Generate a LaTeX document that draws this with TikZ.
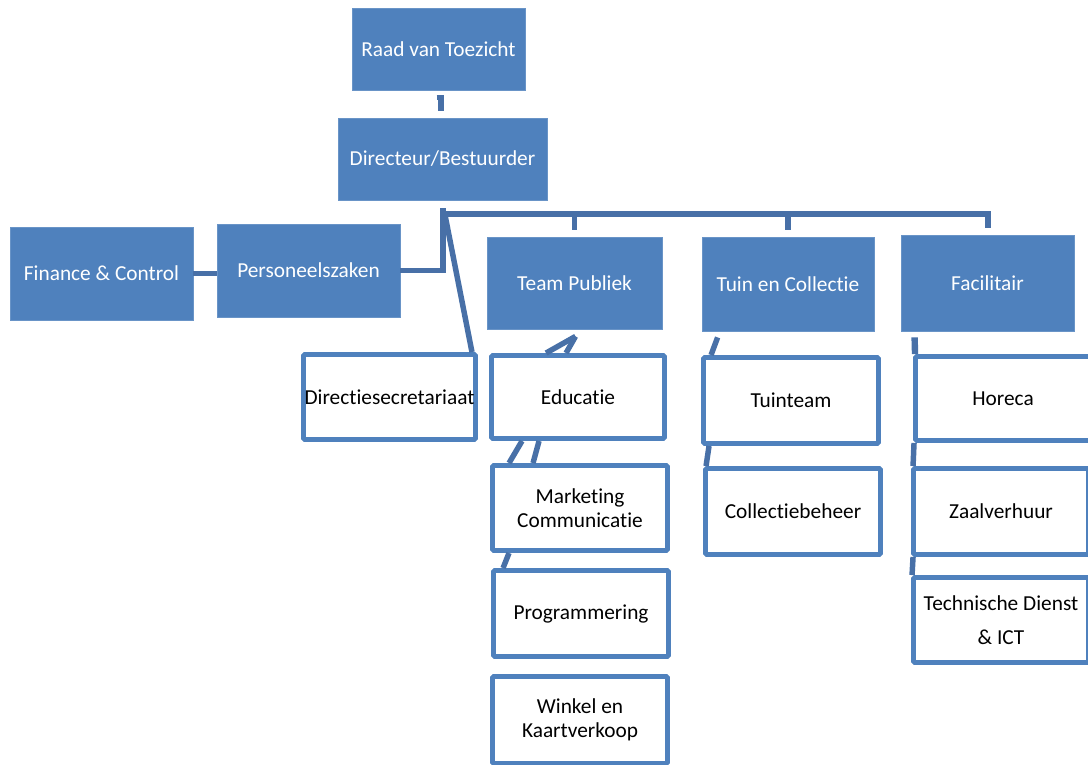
\documentclass[tikz,border=0pt]{standalone}
\usepackage{fontspec}
\setmainfont{Carlito}[Ligatures=NoCommon]
\usetikzlibrary{calc}
\definecolor{boxblue}{RGB}{79,129,189}
\definecolor{lineblue}{RGB}{72,112,167}

\tikzset{
	% size given in pixels of the chart (w, h)
	boxsize/.style 2 args={minimum width=#1*0.75pt, minimum height=#2*0.75pt},
	headbox/.style={fill=boxblue, draw=boxblue!85!white, line width=0.6pt, text=white,
		inner sep=0pt, align=center, font=\fontsize{16}{18}\selectfont},
	unitbox/.style={fill=white, draw=boxblue, line width=3.7pt, rounded corners=1pt,
		inner sep=0pt, align=center, font=\fontsize{16}{18}\selectfont},
	link/.style={draw=lineblue, line width=4.1pt},
}

\begin{document}
\begin{tikzpicture}[x=0.75pt, y=-0.75pt]
	\useasboundingbox (0,0) rectangle (1088,764);
	
	% top of the chart
	\node[headbox, boxsize={173}{82}] (raad) at (438.5,49) {Raad van Toezicht};
	\node[headbox, boxsize={209}{82}] (dir) at (442.5,159) {Directeur/Bestuurder};
	\node[headbox, boxsize={183}{93}] (fin) at (101.5,273.5) {Finance \& Control};
	\node[headbox, boxsize={183}{93}] (pers) at (308.5,270.5) {Personeelszaken};
	
	% departments
	\node[headbox, boxsize={175}{92}] (publiek) at (574.5,283) {Team Publiek};
	\node[headbox, boxsize={172}{94}] (tuin) at (788,284) {Tuin en Collectie};
	\node[headbox, boxsize={173}{96}] (facil) at (987.5,283) {Facilitair};
	
	% connectors
	\coordinate (stub) at (441,111);
	\coordinate (hub) at (443,208);
	\draw[link] ($(raad.south)+(-2,7)$) -- ($(raad.south)+(2.5,7)$) -- (stub);
	\draw[link] (hub) |- (pers.east);
	\draw[link] (fin.east) -- (fin.east -| pers.west);
	\draw[link] (441,214) -| ($(facil.north)+(0.5,-7)$);
	\draw[link] (publiek.north |- 0,214) -- ($(publiek.north)+(0,-7)$);
	\draw[link] (tuin.north |- 0,214) -- ($(tuin.north)+(0,-7)$);
	
	% staff and teams
	\node[unitbox, boxsize={172}{85}] (secr) at (389.5,397) {Directiesecretariaat};
	\node[unitbox, boxsize={173}{83}] (educ) at (578,397) {Educatie};
	\node[unitbox, boxsize={175}{85}] (mark) at (580,508) {Marketing\\Communicatie};
	\node[unitbox, boxsize={175}{86}] (prog) at (581,613.5) {Programmering};
	\node[unitbox, boxsize={175}{87}] (winkel) at (580,720) {Winkel en\\Kaartverkoop};
	\node[unitbox, boxsize={175}{86}] (tuinteam) at (791,400.5) {Tuinteam};
	\node[unitbox, boxsize={175}{86}] (collectie) at (793,511.5) {Collectiebeheer};
	\node[unitbox, boxsize={175}{84}] (horeca) at (1003,398.5) {Horeca};
	\node[unitbox, boxsize={175}{86}] (zaal) at (1001,511.5) {Zaalverhuur};
	\node[unitbox, boxsize={175}{85}, font=\fontsize{16}{25}\selectfont] (techn) at (1001,620) {Technische Dienst\\\& ICT};
	
	% links to staff and teams
	\draw[link] (445,215) -- ($(secr.north east)+(-6,0)$);
	\draw[link] ($(publiek.south)+(1,7)$) -- ($(educ.north west)+(57,0)$);
	\draw[link] ($(publiek.south)+(1,7)$) -- ($(educ.north west)+(77,0)$);
	\draw[link] ($(educ.south west)+(33,0)$) -- ($(mark.north west)+(19,0)$);
	\draw[link] ($(educ.south west)+(50,0)$) -- ($(mark.north west)+(43,0)$);
	\draw[link] ($(mark.south west)+(19,0)$) -- ($(prog.north west)+(12,0)$);
	\draw[link] ($(tuin.south west)+(16,6)$) -- ($(tuinteam.north west)+(10,0)$);
	\draw[link] ($(tuinteam.south west)+(8,0)$) -- ($(collectie.north west)+(3,0)$);
	\draw[link, line width=4.8pt] ($(facil.south west)+(14,6)$) -- ($(horeca.north west)+(2,0)$);
	\draw[link] ($(horeca.south west)+(1,0)$) -- ($(zaal.north west)+(2,0)$);
	\draw[link] ($(zaal.south west)+(2,0)$) -- ($(techn.north west)+(1,0)$);
\end{tikzpicture}
\end{document}
